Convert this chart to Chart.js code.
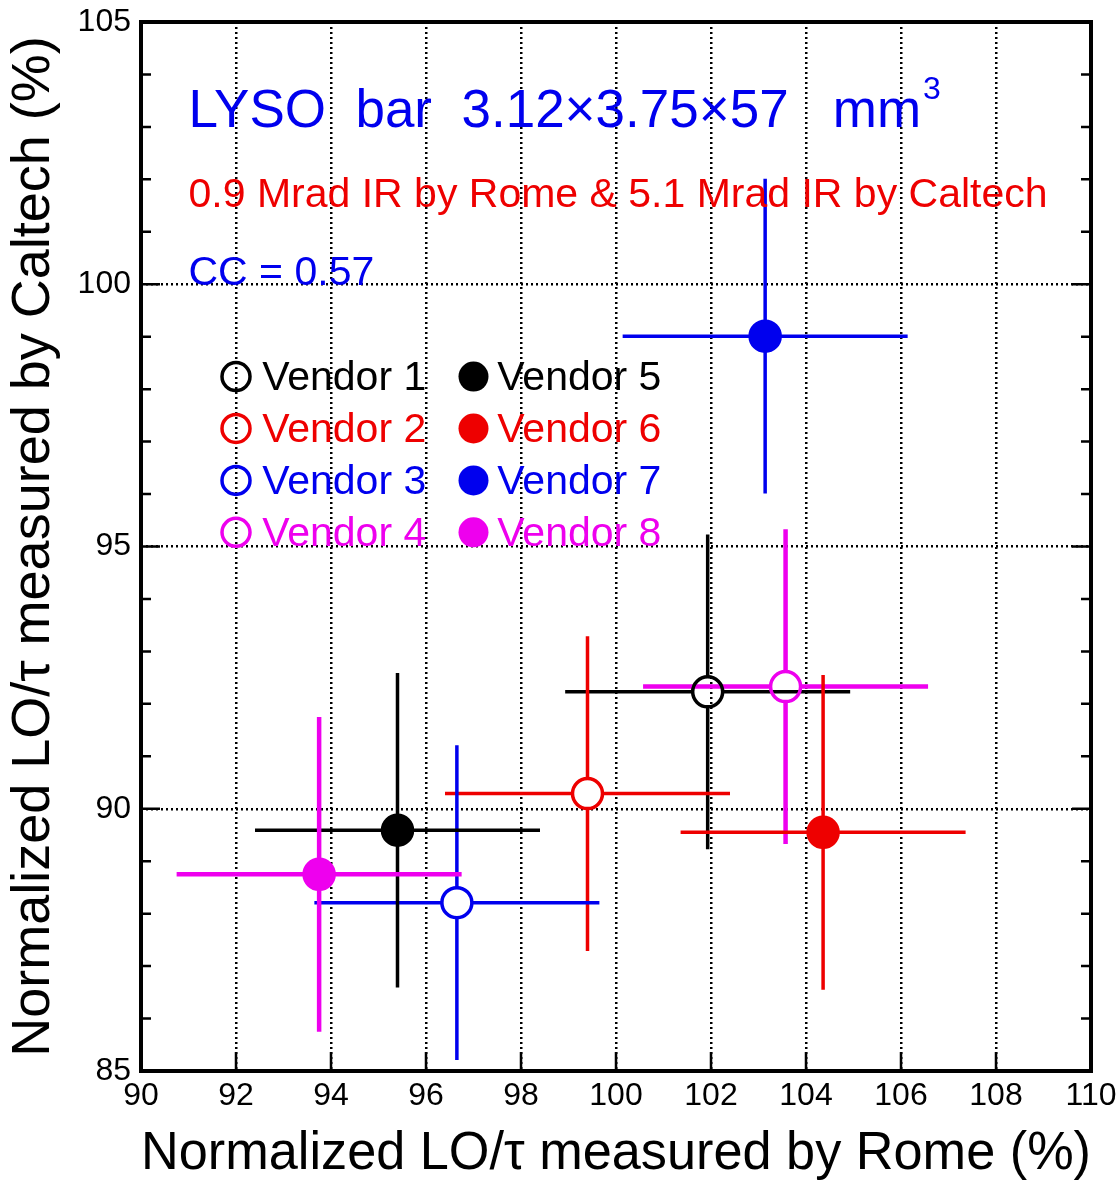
<!DOCTYPE html>
<html>
<head>
<meta charset="utf-8">
<script src="https://cdn.jsdelivr.net/npm/chart.js@4.4.1/dist/chart.umd.min.js"></script>
<style>
  html, body { margin: 0; padding: 0; background: #ffffff; }
  #wrap { width: 1119px; height: 1184px; }
</style>
</head>
<body>
<div id="wrap"><canvas id="chartLyso"></canvas></div>
<script>
// data
const vendorNames = ['Vendor 1', 'Vendor 2', 'Vendor 3', 'Vendor 4', 'Vendor 5', 'Vendor 6', 'Vendor 7', 'Vendor 8'];
const romeValues = [101.93, 99.40, 96.65, 103.57, 95.40, 104.36, 103.14, 93.75];
const caltechValues = [92.23, 90.29, 88.21, 92.33, 89.59, 89.55, 99.01, 88.75];
const romeErrors = [3.0, 3.0, 3.0, 3.0, 3.0, 3.0, 3.0, 3.0];
const caltechErrors = [3.0, 3.0, 3.0, 3.0, 3.0, 3.0, 3.0, 3.0];
const vendorColors = ['#000000', '#ee0000', '#0000ee', '#ee00ee', '#000000', '#ee0000', '#0000ee', '#ee00ee'];
const vendorFilled = [false, false, false, false, true, true, true, true];

const romeTickLabels = [90, 92, 94, 96, 98, 100, 102, 104, 106, 108, 110];
const caltechTickLabels = [85, 90, 95, 100, 105];

const FONT = "'Liberation Sans', Arial, Helvetica, sans-serif";

// error bars, drawn from the marker edge outward
const errorBarPlugin = {
    id: 'errorBars',
    beforeDatasetsDraw(chart) {
        const { ctx, scales: { x, y } } = chart;
        ctx.save();
        ctx.lineCap = 'butt';
        chart.data.datasets.forEach((ds, i) => {
            const px = x.getPixelForValue(romeValues[i]);
            const py = y.getPixelForValue(caltechValues[i]);
            const r = ds.pointRadius;
            const x0 = x.getPixelForValue(romeValues[i] - romeErrors[i]);
            const x1 = x.getPixelForValue(romeValues[i] + romeErrors[i]);
            const y0 = y.getPixelForValue(caltechValues[i] - caltechErrors[i]);
            const y1 = y.getPixelForValue(caltechValues[i] + caltechErrors[i]);
            ctx.strokeStyle = ds.borderColor;
            ctx.lineWidth = ds.errorWidth;
            ctx.beginPath();
            ctx.moveTo(x0, py); ctx.lineTo(px - r, py);
            ctx.moveTo(px + r, py); ctx.lineTo(x1, py);
            ctx.moveTo(px, y1); ctx.lineTo(px, py - r);
            ctx.moveTo(px, py + r); ctx.lineTo(px, y0);
            ctx.stroke();
        });
        ctx.restore();
    }
};

// frame with inward ticks
const framePlugin = {
    id: 'frame',
    afterDraw(chart) {
        const { ctx, chartArea: a, scales: { x, y } } = chart;
        ctx.save();
        ctx.strokeStyle = '#000';
        ctx.lineWidth = 2.5;
        ctx.beginPath();
        romeTickLabels.forEach(v => {
            const px = x.getPixelForValue(v);
            ctx.moveTo(px, a.bottom); ctx.lineTo(px, a.bottom - 19);
        });
        for (let v = caltechTickLabels[0]; v <= caltechTickLabels[caltechTickLabels.length - 1]; v++) {
            const py = y.getPixelForValue(v);
            const len = caltechTickLabels.includes(v) ? 19 : 10;
            ctx.moveTo(a.left, py); ctx.lineTo(a.left + len, py);
            ctx.moveTo(a.right, py); ctx.lineTo(a.right - len, py);
        }
        ctx.stroke();
        ctx.lineWidth = 4;
        ctx.strokeRect(a.left, a.top, a.right - a.left, a.bottom - a.top);
        ctx.restore();
    }
};

// texts and the two-column legend inside the plot
const notesPlugin = {
    id: 'notes',
    afterDraw(chart) {
        const { ctx, scales: { x, y } } = chart;
        ctx.save();
        ctx.textAlign = 'left';
        ctx.textBaseline = 'alphabetic';

        ctx.fillStyle = '#0000ee';
        ctx.font = '53px ' + FONT;
        const title = 'LYSO  bar  3.12\u00d73.75\u00d757   mm';
        const tx = x.getPixelForValue(91.0);
        const ty = y.getPixelForValue(103.0);
        ctx.fillText(title, tx, ty);
        const w = ctx.measureText(title).width;
        ctx.font = '32px ' + FONT;
        ctx.fillText('3', tx + w + 2, ty - 28);

        ctx.fillStyle = '#ee0000';
        ctx.font = '41px ' + FONT;
        ctx.fillText('0.9 Mrad IR by Rome & 5.1 Mrad IR by Caltech', tx, y.getPixelForValue(101.48));

        ctx.fillStyle = '#0000ee';
        ctx.fillText('CC = 0.57', tx, y.getPixelForValue(99.98));

        // legend
        const colMarker = [92.0, 97.0];
        const colText = [92.55, 97.5];
        const rowY = [98.24, 97.25, 96.26, 95.27];
        ctx.textBaseline = 'middle';
        vendorNames.forEach((name, i) => {
            const col = vendorFilled[i] ? 1 : 0;
            const row = i % 4;
            const mx = x.getPixelForValue(colMarker[col]);
            const my = y.getPixelForValue(rowY[row]);
            ctx.beginPath();
            ctx.arc(mx, my, vendorFilled[i] ? 15 : 14, 0, Math.PI * 2);
            if (vendorFilled[i]) {
                ctx.fillStyle = vendorColors[i];
                ctx.fill();
            } else {
                ctx.strokeStyle = vendorColors[i];
                ctx.lineWidth = 3.5;
                ctx.stroke();
            }
            ctx.fillStyle = vendorColors[i];
            ctx.fillText(name, x.getPixelForValue(colText[col]), my + 2);
        });
        ctx.restore();
    }
};

const datasets = vendorNames.map((name, i) => ({
    label: name,
    data: [{ x: romeValues[i], y: caltechValues[i] }],
    borderColor: vendorColors[i],
    backgroundColor: vendorFilled[i] ? vendorColors[i] : 'rgba(0,0,0,0)',
    pointBackgroundColor: vendorFilled[i] ? vendorColors[i] : 'rgba(0,0,0,0)',
    pointBorderColor: vendorColors[i],
    pointRadius: 15,
    pointHoverRadius: 15,
    pointBorderWidth: 3.5,
    errorWidth: vendorColors[i] === '#ee00ee' ? 4.5 : 3.5,
    showLine: false
}));

const ctx = document.getElementById('chartLyso').getContext('2d');
new Chart(ctx, {
    type: 'scatter',
    data: { datasets: datasets },
    options: {
        responsive: true,
        maintainAspectRatio: false,
        animation: false,
        layout: { padding: { top: 22, right: 28, left: 0, bottom: 0 } },
        plugins: {
            legend: { display: false },
            tooltip: { enabled: false }
        },
        scales: {
            x: {
                type: 'linear',
                min: romeTickLabels[0],
                max: romeTickLabels[romeTickLabels.length - 1],
                afterBuildTicks: s => { s.ticks = romeTickLabels.map(v => ({ value: v })); },
                afterFit: s => { s.height = 113; s.paddingLeft = 0; s.paddingRight = 0; },
                ticks: { color: '#000', font: { family: FONT, size: 32 }, padding: 6, maxRotation: 0 },
                grid: { color: '#000', lineWidth: 2.5, drawTicks: false },
                border: { display: false, dash: [2, 3] },
                title: {
                    display: true,
                    text: 'Normalized LO/\u03c4 measured by Rome (%)',
                    color: '#000',
                    font: { family: FONT, size: 54, lineHeight: 1 },
                    padding: { top: 0, bottom: 3 }
                }
            },
            y: {
                type: 'linear',
                min: caltechTickLabels[0],
                max: caltechTickLabels[caltechTickLabels.length - 1],
                afterBuildTicks: s => { s.ticks = caltechTickLabels.map(v => ({ value: v })); },
                afterFit: s => { s.width = 141; s.paddingTop = 0; s.paddingBottom = 0; },
                ticks: { color: '#000', font: { family: FONT, size: 32 }, padding: 10 },
                grid: { color: '#000', lineWidth: 2.5, drawTicks: false },
                border: { display: false, dash: [2, 3] },
                title: {
                    display: true,
                    text: 'Normalized LO/\u03c4 measured by Caltech (%)',
                    color: '#000',
                    font: { family: FONT, size: 54, lineHeight: 1 },
                    padding: { top: 7, bottom: 0 }
                }
            }
        }
    },
    plugins: [errorBarPlugin, framePlugin, notesPlugin]
});
</script>
</body>
</html>
